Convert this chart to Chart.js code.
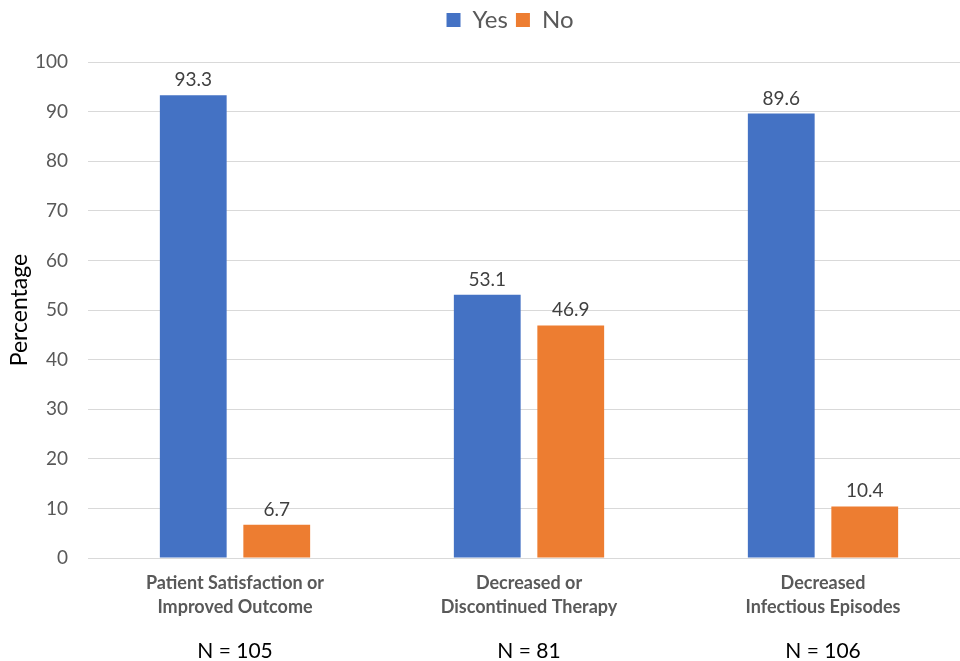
<!DOCTYPE html>
<html>
<head>
<meta charset="utf-8">
<script src="https://cdn.jsdelivr.net/npm/chart.js@4"></script>
<style>
  html, body { margin: 0; padding: 0; background: #ffffff; overflow: hidden; }
  #wrap { width: 970px; height: 661px; position: relative; }
</style>
</head>
<body>
<div id="wrap"><canvas id="chart"></canvas></div>
<script>
// Outcome categories (two-line labels) and sample sizes
const categories = [
  ["Patient Satisfaction or", "Improved Outcome"],
  ["Decreased or", "Discontinued Therapy"],
  ["Decreased", "Infectious Episodes"]
];
const sampleSizes = ["N = 105", "N = 81", "N = 106"];

// Percent of respondents answering Yes / No
const yesValues = [93.3, 53.1, 89.6];
const noValues = [6.7, 46.9, 10.4];

const yTicks = [0, 10, 20, 30, 40, 50, 60, 70, 80, 90, 100];

const FONT = "Lato, 'Open Sans', sans-serif";

// Value labels above each bar
const valueLabels = {
  id: "valueLabels",
  afterDatasetsDraw(chart) {
    const ctx = chart.ctx;
    ctx.save();
    ctx.font = "19px " + FONT;
    ctx.fillStyle = "#404040";
    ctx.textAlign = "center";
    ctx.textBaseline = "alphabetic";
    chart.data.datasets.forEach((ds, i) => {
      chart.getDatasetMeta(i).data.forEach((bar, j) => {
        ctx.fillText(ds.data[j].toFixed(1), bar.x, bar.y - 9);
      });
    });
    ctx.restore();
  }
};

// Sample-size line under each category label
const sampleSizeLabels = {
  id: "sampleSizeLabels",
  afterDraw(chart) {
    const ctx = chart.ctx;
    const xs = chart.scales.x;
    ctx.save();
    ctx.font = "21px " + FONT;
    ctx.fillStyle = "#000000";
    ctx.textAlign = "center";
    ctx.textBaseline = "middle";
    sampleSizes.forEach((s, i) => {
      ctx.fillText(s, xs.getPixelForValue(i), 651);
    });
    ctx.restore();
  }
};

// Extra space under the legend, and nudge it a little right of centre
const legendSpacing = {
  id: "legendSpacing",
  beforeUpdate(chart) {
    const l = chart.legend;
    if (l && !l._spaced) {
      const fit = l.fit;
      l.fit = function () {
        fit.call(this);
        this.height += 20;
      };
      l._spaced = true;
    }
  },
  afterLayout(chart) {
    if (chart.legend) {
      chart.legend.left += 22;
      chart.legend.right += 22;
    }
  }
};

new Chart(document.getElementById("chart"), {
  type: "bar",
  data: {
    labels: categories,
    datasets: [
      { label: "Yes", data: yesValues, backgroundColor: "#4472C4" },
      { label: "No", data: noValues, backgroundColor: "#ED7D31" }
    ]
  },
  options: {
    responsive: true,
    maintainAspectRatio: false,
    animation: false,
    layout: { padding: { left: 6, right: 0, top: 0, bottom: 29 } },
    datasets: { bar: { categoryPercentage: 0.568, barPercentage: 0.8 } },
    plugins: {
      legend: {
        position: "top",
        labels: {
          font: { size: 24, family: FONT },
          color: "#595959",
          boxWidth: 14,
          boxHeight: 14,
          padding: 8
        }
      },
      tooltip: { enabled: false }
    },
    scales: {
      x: {
        grid: { display: false, drawTicks: false },
        border: { display: false },
        ticks: {
          font: { size: 18, weight: "bold", family: FONT, lineHeight: 1.333 },
          color: "#595959",
          padding: 13,
          maxRotation: 0
        }
      },
      y: {
        min: 0,
        max: 100,
        afterBuildTicks(scale) {
          scale.ticks = yTicks.map(v => ({ value: v }));
        },
        afterFit(scale) {
          scale.width = 82;
        },
        grid: { color: "#d9d9d9", lineWidth: 1, drawTicks: false },
        border: { display: false },
        ticks: {
          font: { size: 19, family: FONT },
          color: "#595959",
          padding: 20
        },
        title: {
          display: true,
          text: "Percentage",
          font: { size: 23, family: FONT },
          color: "#000000",
          padding: { top: 0, bottom: 4 }
        }
      }
    }
  },
  plugins: [valueLabels, sampleSizeLabels, legendSpacing]
});
</script>
</body>
</html>
